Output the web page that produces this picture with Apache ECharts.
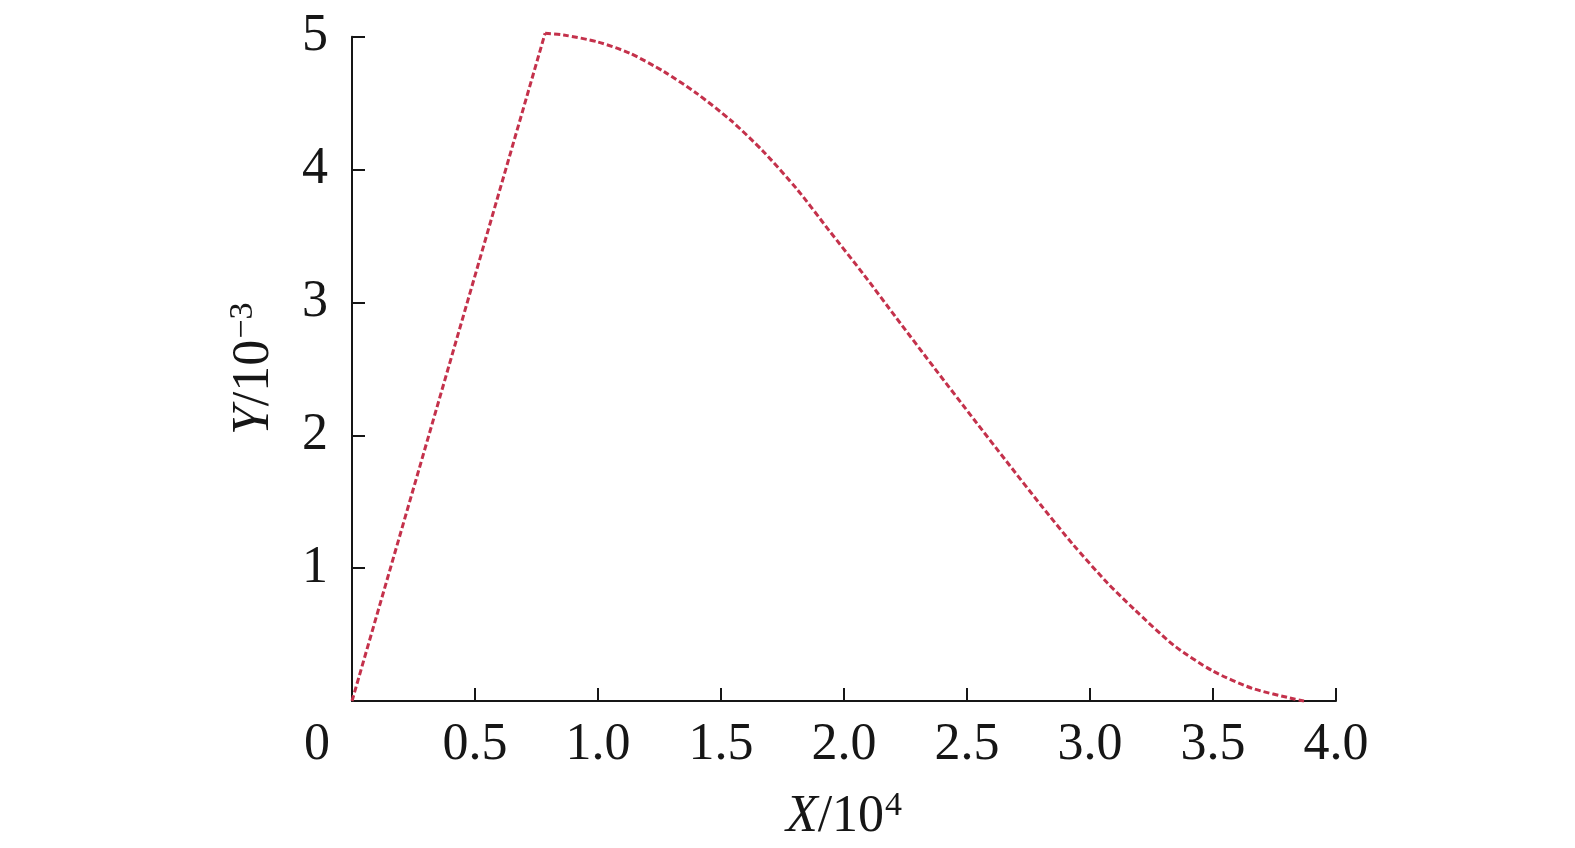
<!DOCTYPE html>
<html><head><meta charset="utf-8">
<script src="https://cdn.jsdelivr.net/npm/echarts@6/dist/echarts.min.js"></script>
<style>html,body{margin:0;padding:0;background:#fff}#c{width:1575px;height:848px}</style>
</head><body><div id="c"></div>
<script>
// Rising (linear) segment
const riseX = [0, 0.785];
const riseY = [0, 5.026];
// Falling (curved) segment
const fallX = [0.785, 0.86, 1.0, 1.13, 1.27, 1.40, 1.54, 1.67, 1.81, 1.94, 2.08, 2.21, 2.37, 2.53, 2.66, 2.80, 2.93, 3.07, 3.18, 3.34, 3.50, 3.66, 3.83, 3.87];
const fallY = [5.026, 5.013, 4.96, 4.875, 4.735, 4.575, 4.37, 4.14, 3.85, 3.54, 3.21, 2.89, 2.50, 2.115, 1.805, 1.475, 1.18, 0.89, 0.69, 0.42, 0.225, 0.095, 0.015, 0];
const xTicks = [0, 0.5, 1.0, 1.5, 2.0, 2.5, 3.0, 3.5, 4.0];
const yTicks = [1, 2, 3, 4, 5];

const FONT = "'Liberation Serif', 'Times New Roman', serif";
const TXT = '#161616';
const LINE_COLOR = '#c4314b';
const pair = (xs, ys) => xs.map((x, i) => [x, ys[i]]);

const chart = echarts.init(document.getElementById('c'), null, {renderer: 'canvas'});
const lineStyle = {color: LINE_COLOR, width: 3, type: [6, 3]};
const titleRich = {
  i: {fontFamily: FONT, fontStyle: 'italic', fontSize: 52, color: TXT},
  n: {fontFamily: FONT, fontSize: 52, color: TXT},
  s: {fontFamily: FONT, fontSize: 34, color: TXT, verticalAlign: 'top', padding: [0, 0, 22, 1]}
};
chart.setOption({
  animation: false,
  backgroundColor: '#fff',
  grid: {left: 352, right: 239, top: 36.7, bottom: 147, containLabel: false},
  xAxis: {
    type: 'value', min: 0, max: 4, interval: 0.5,
    name: '{i|X}{n|/10}{s|4}',
    nameLocation: 'middle', nameGap: 88,
    nameTextStyle: {color: TXT, fontFamily: FONT, rich: titleRich},
    axisLine: {show: true, onZero: false, lineStyle: {color: TXT, width: 2}},
    axisTick: {show: true, inside: true, length: 13, lineStyle: {color: TXT, width: 2}},
    splitLine: {show: false},
    axisLabel: {
      margin: 18, color: TXT, fontFamily: FONT, fontSize: 52,
      formatter: v => xTicks.includes(v) ? (v === 0 ? '{z|0}' : v.toFixed(1)) : '',
      rich: {z: {fontFamily: FONT, fontSize: 52, color: TXT, padding: [0, 70, 0, 0]}}
    }
  },
  yAxis: {
    type: 'value', min: 0, max: 5, interval: 1,
    name: '{i|Y}{n|/10}{s|−3}',
    nameLocation: 'middle', nameGap: 70, nameRotate: 90,
    nameTextStyle: {color: TXT, fontFamily: FONT, rich: titleRich},
    axisLine: {show: true, lineStyle: {color: TXT, width: 2}},
    axisTick: {show: true, inside: true, length: 13, lineStyle: {color: TXT, width: 2}},
    splitLine: {show: false},
    axisLabel: {
      margin: 24, color: TXT, fontFamily: FONT, fontSize: 52,
      formatter: v => yTicks.includes(v) ? String(v) : ''
    }
  },
  series: [
    {type: 'line', data: pair(riseX, riseY), showSymbol: false, clip: false, lineStyle: lineStyle, z: 3},
    {type: 'line', data: pair(fallX, fallY), showSymbol: false, clip: false, smooth: 0.25, lineStyle: lineStyle, z: 3}
  ]
});
</script></body></html>
